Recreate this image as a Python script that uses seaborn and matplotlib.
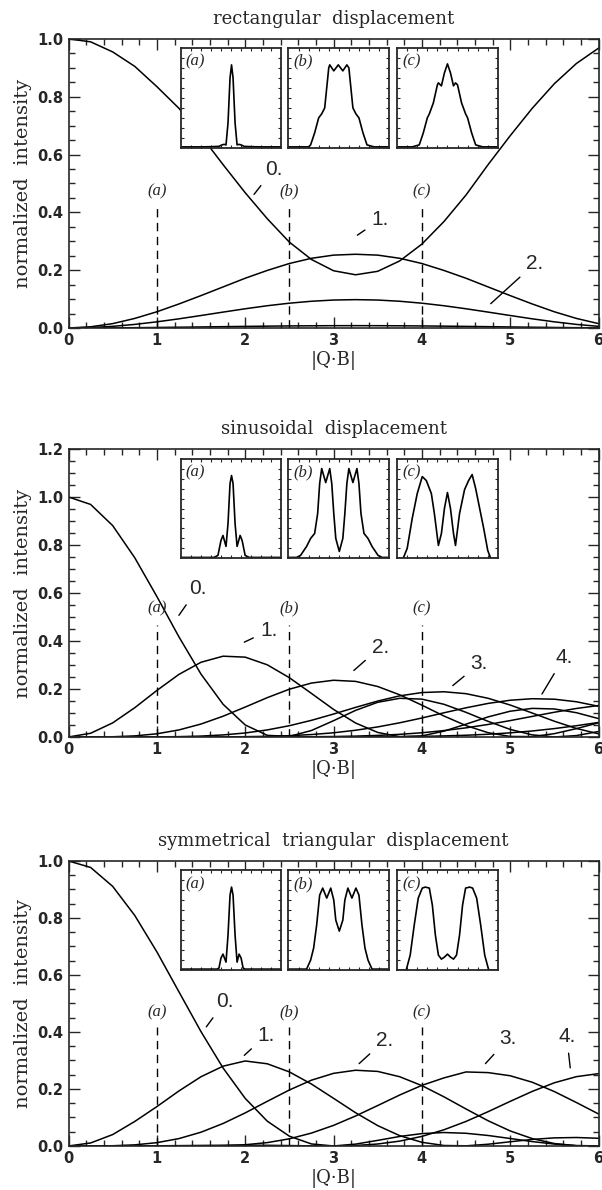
import matplotlib
matplotlib.use("Agg")
import numpy as np
import matplotlib.pyplot as plt
from matplotlib.ticker import MultipleLocator
import seaborn as sns

# |Q.B| grid shared by all curves
qb = [0.0, 0.25, 0.5, 0.75, 1.0, 1.25, 1.5, 1.75, 2.0, 2.25, 2.5, 2.75, 3.0,
      3.25, 3.5, 3.75, 4.0, 4.25, 4.5, 4.75, 5.0, 5.25, 5.5, 5.75, 6.0]

# rectangular displacement, orders 0..3
rect_0 = [1.000, 0.990, 0.955, 0.905, 0.835, 0.760, 0.665, 0.565, 0.468, 0.378, 0.297, 0.237, 0.198,
          0.184, 0.196, 0.232, 0.290, 0.368, 0.460, 0.565, 0.665, 0.760, 0.845, 0.915, 0.968]
rect_1 = [0.0, 0.004, 0.015, 0.033, 0.056, 0.083, 0.112, 0.142, 0.172, 0.199, 0.223, 0.241, 0.252,
          0.255, 0.252, 0.241, 0.223, 0.199, 0.172, 0.142, 0.112, 0.083, 0.056, 0.033, 0.015]
rect_2 = [0.0, 0.0014, 0.0056, 0.0123, 0.0212, 0.0316, 0.0431, 0.0549, 0.0664, 0.0769, 0.0857, 0.0924, 0.0966,
          0.0980, 0.0966, 0.0924, 0.0857, 0.0769, 0.0664, 0.0549, 0.0431, 0.0316, 0.0212, 0.0123, 0.0056]
rect_3 = [0.0, 0.0001, 0.0005, 0.0010, 0.0017, 0.0026, 0.0035, 0.0045, 0.0054, 0.0063, 0.0070, 0.0075, 0.0079,
          0.0080, 0.0079, 0.0075, 0.0070, 0.0063, 0.0054, 0.0045, 0.0035, 0.0026, 0.0017, 0.0010, 0.0005]

# sinusoidal displacement, orders 0..6
sin_0 = [1.0, 0.9690, 0.8808, 0.7468, 0.5855, 0.4172, 0.2619, 0.1362, 0.0501, 0.0068, 0.0023, 0.0269, 0.0677,
         0.1108, 0.1445, 0.1611, 0.1577, 0.1362, 0.1027, 0.0651, 0.0315, 0.0087, 0.0000, 0.0058, 0.0227]
sin_1 = [0.0, 0.0154, 0.0587, 0.1219, 0.1937, 0.2607, 0.3113, 0.3366, 0.3326, 0.3007, 0.2471, 0.1815, 0.1150,
         0.0581, 0.0189, 0.0011, 0.0044, 0.0243, 0.0534, 0.0836, 0.1073, 0.1191, 0.1166, 0.1011, 0.0766]
sin_2 = [0.0, 0.0001, 0.0009, 0.0045, 0.0132, 0.0293, 0.0539, 0.0865, 0.1245, 0.1638, 0.1990, 0.2246, 0.2363,
         0.2316, 0.2103, 0.1756, 0.1326, 0.0874, 0.0474, 0.0178, 0.0022, 0.0015, 0.0138, 0.0348, 0.0590]
sin_3 = [0.0, 0.0, 0.0, 0.0001, 0.0004, 0.0014, 0.0037, 0.0085, 0.0166, 0.0293, 0.0469, 0.0693, 0.0955,
         0.1233, 0.1496, 0.1713, 0.1851, 0.1884, 0.1804, 0.1612, 0.1331, 0.0997, 0.0656, 0.0354, 0.0132]
sin_4 = [0.0, 0.0, 0.0, 0.0, 0.0, 0.0, 0.0001, 0.0004, 0.0012, 0.0027, 0.0054, 0.0101, 0.0174,
         0.0280, 0.0418, 0.0591, 0.0790, 0.1007, 0.1215, 0.1398, 0.1530, 0.1594, 0.1574, 0.1467, 0.1279]
sin_5 = [0.0, 0.0, 0.0, 0.0, 0.0, 0.0, 0.0, 0.0, 0.0, 0.0001, 0.0004, 0.0009, 0.0018,
         0.0036, 0.0065, 0.0110, 0.0175, 0.0266, 0.0380, 0.0521, 0.0682, 0.0857, 0.1030, 0.1188, 0.1311]
sin_6 = [0.0, 0.0, 0.0, 0.0, 0.0, 0.0, 0.0, 0.0, 0.0, 0.0, 0.0, 0.0, 0.0001,
         0.0003, 0.0007, 0.0013, 0.0024, 0.0044, 0.0072, 0.0113, 0.0172, 0.0250, 0.0349, 0.0469, 0.0604]

# symmetrical triangular displacement, orders 0..4
tri_0 = [1.0, 0.9773, 0.9109, 0.8088, 0.6813, 0.5409, 0.4011, 0.2735, 0.1671, 0.0870, 0.0344, 0.0071, 0.0000,
         0.0065, 0.0196, 0.0334, 0.0434, 0.0472, 0.0445, 0.0368, 0.0262, 0.0154, 0.0067, 0.0014, 0.0000]
tri_1 = [0.0, 0.0105, 0.040, 0.086, 0.138, 0.193, 0.243, 0.280, 0.2982, 0.2884, 0.2599, 0.2173, 0.1673,
         0.1166, 0.0715, 0.0361, 0.0129, 0.0017, 0.0005, 0.0061, 0.0147, 0.0230, 0.0284, 0.0297, 0.0270]
tri_2 = [0.0, 0.0001, 0.0008, 0.0039, 0.0116, 0.0259, 0.0483, 0.0789, 0.1160, 0.1566, 0.1964, 0.2308, 0.2548,
         0.2657, 0.2616, 0.2429, 0.2118, 0.1725, 0.1298, 0.0885, 0.0528, 0.0258, 0.0086, 0.0009, 0.0007]
tri_3 = [0.0, 0.0001, 0.0004, 0.0007, 0.0006, 0.0002, 0.0000, 0.0009, 0.0043, 0.0118, 0.0251, 0.0452, 0.0722,
         0.1052, 0.1418, 0.1789, 0.2126, 0.2388, 0.2597, 0.2574, 0.2464, 0.2236, 0.1909, 0.1524, 0.1123]
tri_4 = [0.0, 0.0, 0.0, 0.0002, 0.0006, 0.0012, 0.0019, 0.0025, 0.0027, 0.0023, 0.0014, 0.0004, 0.0001,
         0.0017, 0.0069, 0.0171, 0.0336, 0.0568, 0.0861, 0.1203, 0.1565, 0.1915, 0.2217, 0.2432, 0.2538]

# inset profiles (a), (b), (c), box-relative coordinates
rect_a_x = [0, 0.1, 0.2, 0.3, 0.38, 0.41, 0.43, 0.45, 0.47, 0.49, 0.505, 0.52, 0.54, 0.56, 0.58, 0.60, 0.63, 0.7, 0.8, 0.9, 1.0]
rect_a_y = [0.01, 0.01, 0.01, 0.012, 0.015, 0.03, 0.035, 0.03, 0.25, 0.70, 0.83, 0.70, 0.25, 0.03, 0.035, 0.03, 0.015, 0.012, 0.01, 0.01, 0.01]
rect_b_x = [0, 0.1, 0.2, 0.22, 0.26, 0.30, 0.33, 0.36, 0.38, 0.40, 0.41, 0.45, 0.495, 0.54, 0.58, 0.60, 0.62, 0.64, 0.67, 0.70, 0.74, 0.78, 0.85, 1.0]
rect_b_y = [0.01, 0.01, 0.01, 0.03, 0.15, 0.30, 0.34, 0.40, 0.60, 0.80, 0.83, 0.77, 0.83, 0.77, 0.83, 0.80, 0.60, 0.40, 0.34, 0.30, 0.15, 0.03, 0.01, 0.01]
rect_c_x = [0, 0.15, 0.22, 0.26, 0.30, 0.32, 0.36, 0.40, 0.41, 0.44, 0.47, 0.50, 0.53, 0.56, 0.58, 0.60, 0.64, 0.68, 0.70, 0.74, 0.78, 0.85, 1.0]
rect_c_y = [0.01, 0.01, 0.03, 0.15, 0.30, 0.34, 0.45, 0.63, 0.65, 0.62, 0.75, 0.84, 0.75, 0.62, 0.65, 0.63, 0.45, 0.34, 0.30, 0.15, 0.03, 0.01, 0.01]

sin_a_x = [0, 0.2, 0.33, 0.37, 0.40, 0.42, 0.45, 0.47, 0.49, 0.505, 0.52, 0.54, 0.56, 0.59, 0.61, 0.64, 0.68, 0.8, 1.0]
sin_a_y = [0.01, 0.01, 0.01, 0.03, 0.18, 0.23, 0.12, 0.35, 0.75, 0.83, 0.75, 0.35, 0.12, 0.23, 0.18, 0.03, 0.01, 0.01, 0.01]
sin_b_x = [0, 0.08, 0.12, 0.18, 0.22, 0.26, 0.29, 0.31, 0.33, 0.37, 0.41, 0.43, 0.45, 0.47, 0.505,
           0.54, 0.56, 0.58, 0.60, 0.64, 0.68, 0.70, 0.72, 0.75, 0.79, 0.83, 0.89, 0.93, 1.0]
sin_b_y = [0.01, 0.01, 0.03, 0.12, 0.20, 0.25, 0.45, 0.75, 0.90, 0.76, 0.90, 0.75, 0.45, 0.20, 0.07,
           0.20, 0.45, 0.75, 0.90, 0.76, 0.90, 0.75, 0.45, 0.25, 0.20, 0.12, 0.03, 0.01, 0.01]
sin_c_x = [0, 0.06, 0.10, 0.15, 0.20, 0.25, 0.29, 0.34, 0.37, 0.41, 0.44, 0.47, 0.50, 0.53,
           0.56, 0.58, 0.62, 0.67, 0.71, 0.745, 0.78, 0.82, 0.86, 0.90, 0.93, 1.0]
sin_c_y = [0.0, 0.0, 0.10, 0.40, 0.65, 0.82, 0.78, 0.65, 0.45, 0.13, 0.25, 0.50, 0.66, 0.50,
           0.25, 0.13, 0.45, 0.69, 0.78, 0.84, 0.70, 0.50, 0.30, 0.08, 0.0, 0.0]

tri_a_x = [0, 0.2, 0.36, 0.38, 0.40, 0.42, 0.45, 0.47, 0.49, 0.505, 0.52, 0.54, 0.56, 0.58, 0.60, 0.62, 0.64, 0.8, 1.0]
tri_a_y = [0.01, 0.01, 0.01, 0.02, 0.12, 0.16, 0.08, 0.35, 0.75, 0.83, 0.75, 0.35, 0.08, 0.16, 0.12, 0.02, 0.01, 0.01, 0.01]
tri_b_x = [0, 0.1, 0.18, 0.22, 0.25, 0.28, 0.31, 0.34, 0.38, 0.42, 0.45, 0.47, 0.505,
           0.54, 0.56, 0.59, 0.63, 0.67, 0.70, 0.73, 0.76, 0.79, 0.83, 1.0]
tri_b_y = [0.01, 0.01, 0.01, 0.10, 0.22, 0.45, 0.75, 0.82, 0.72, 0.82, 0.70, 0.50, 0.39,
           0.50, 0.70, 0.82, 0.72, 0.82, 0.75, 0.45, 0.22, 0.10, 0.01, 0.01]
tri_c_x = [0, 0.09, 0.13, 0.17, 0.21, 0.25, 0.28, 0.32, 0.35, 0.38, 0.41, 0.44, 0.47, 0.50,
           0.53, 0.56, 0.59, 0.62, 0.65, 0.68, 0.72, 0.75, 0.79, 0.83, 0.87, 0.91, 1.0]
tri_c_y = [0.0, 0.0, 0.15, 0.45, 0.72, 0.82, 0.83, 0.82, 0.65, 0.35, 0.15, 0.11, 0.13, 0.16,
           0.13, 0.11, 0.15, 0.35, 0.65, 0.82, 0.83, 0.82, 0.72, 0.45, 0.15, 0.0, 0.0]

marks = [1.0, 2.5, 4.0]
mark_names = ["(a)", "(b)", "(c)"]

sns.set_style("ticks")
plt.rcParams["font.family"] = ["DejaVu Serif", "DejaVu Sans"]

fig = plt.figure(figsize=(6.02, 11.9), dpi=100)

panels = [
    dict(title="rectangular  displacement", pos=[0.1138, 0.7244, 0.8804, 0.2429], ymax=1.0,
         curves=[rect_0, rect_1, rect_2, rect_3], mark_top=0.427, mark_lab=0.473,
         insets=[(rect_a_x, rect_a_y), (rect_b_x, rect_b_y), (rect_c_x, rect_c_y)], box=(0.623, 0.346),
         labels=[("0.", 2.32, 0.548, 2.10, 0.462), ("1.", 3.53, 0.375, 3.27, 0.321),
                 ("2.", 5.28, 0.223, 4.78, 0.084)], xlabel=False),
    dict(title="sinusoidal  displacement", pos=[0.1138, 0.3807, 0.8804, 0.2420], ymax=1.2,
         curves=[sin_0, sin_1, sin_2, sin_3, sin_4, sin_5, sin_6], mark_top=0.465, mark_lab=0.537,
         insets=[(sin_a_x, sin_a_y), (sin_b_x, sin_b_y), (sin_c_x, sin_c_y)], box=(0.744, 0.416),
         labels=[("0.", 1.46, 0.618, 1.25, 0.507), ("1.", 2.27, 0.444, 1.99, 0.395),
                 ("2.", 3.53, 0.374, 3.23, 0.277), ("3.", 4.65, 0.305, 4.35, 0.214),
                 ("4.", 5.61, 0.332, 5.36, 0.179)], xlabel=True),
    dict(title="symmetrical  triangular  displacement", pos=[0.1138, 0.0370, 0.8804, 0.2395], ymax=1.0,
         curves=[tri_0, tri_1, tri_2, tri_3, tri_4], mark_top=0.418, mark_lab=0.47,
         insets=[(tri_a_x, tri_a_y), (tri_b_x, tri_b_y), (tri_c_x, tri_c_y)], box=(0.617, 0.351),
         labels=[("0.", 1.77, 0.506, 1.56, 0.418), ("1.", 2.24, 0.389, 1.99, 0.318),
                 ("2.", 3.58, 0.371, 3.29, 0.289), ("3.", 4.98, 0.377, 4.72, 0.289),
                 ("4.", 5.64, 0.385, 5.68, 0.274)], xlabel=True),
]
inset_x0 = [1.27, 2.49, 3.72]

for p in panels:
    ax = fig.add_axes(p["pos"])
    for vals in p["curves"]:
        sns.lineplot(x=qb, y=vals, ax=ax, color="black", lw=1.1, estimator=None)
    ax.set_xlim(0, 6)
    ax.set_ylim(0, p["ymax"])
    ax.xaxis.set_major_locator(MultipleLocator(1))
    ax.xaxis.set_minor_locator(MultipleLocator(0.2))
    ax.yaxis.set_major_locator(MultipleLocator(0.2))
    ax.yaxis.set_minor_locator(MultipleLocator(0.05))
    ax.yaxis.set_major_formatter(matplotlib.ticker.FormatStrFormatter("%.1f"))
    ax.tick_params(which="both", direction="in", top=True, right=True, width=1.0)
    ax.tick_params(which="major", length=8)
    ax.tick_params(which="minor", length=4)
    for lab in ax.get_xticklabels() + ax.get_yticklabels():
        lab.set_family("DejaVu Sans")
        lab.set_fontweight("bold")
        lab.set_fontsize(10.5)
    for s in ax.spines.values():
        s.set_linewidth(1.2)
    ax.set_title(p["title"], fontsize=13, pad=11)
    ax.set_ylabel("normalized  intensity", fontsize=14, labelpad=4)
    ax.set_xlabel("|Q·B|", fontsize=13, labelpad=2)

    # dashed markers (a), (b), (c)
    ax.vlines(marks, 0, p["mark_top"], colors="black", linestyles=(0, (6, 4)), lw=1.0)
    for xm, nm in zip(marks, mark_names):
        ax.text(xm, p["mark_lab"], nm, ha="center", va="center", fontsize=12,
                family=["Liberation Serif", "DejaVu Serif"], style="italic")

    for txt, tx, ty, px, py in p["labels"]:
        ax.annotate(txt, xy=(px, py), xytext=(tx, ty), ha="center", va="center",
                    fontsize=15, family=["Liberation Sans", "DejaVu Sans"],
                    arrowprops=dict(arrowstyle="-", lw=1.0, color="black", shrinkA=3, shrinkB=0))

    # profile insets
    y0, h = p["box"]
    for x0, (ix, iy), nm in zip(inset_x0, p["insets"], mark_names):
        ins = ax.inset_axes([x0, y0, 1.14, h], transform=ax.transData)
        sns.lineplot(x=ix, y=iy, ax=ins, color="black", lw=1.2, estimator=None, sort=False)
        ins.set_xlim(0, 1)
        ins.set_ylim(0, 1)
        ins.set_xticks(np.arange(0.1, 1.0, 0.1))
        ins.set_yticks(np.arange(0.1, 1.0, 0.1))
        ins.tick_params(direction="in", length=2, width=0.8, top=True, right=True,
                        labelbottom=False, labelleft=False)
        ins.set_xlabel("")
        ins.set_ylabel("")
        for s in ins.spines.values():
            s.set_linewidth(1.3)
        ins.text(0.05, 0.86, nm, transform=ins.transAxes, ha="left", va="center", fontsize=12,
                 family=["Liberation Serif", "DejaVu Serif"], style="italic")

fig.savefig("out.png", dpi=100)
